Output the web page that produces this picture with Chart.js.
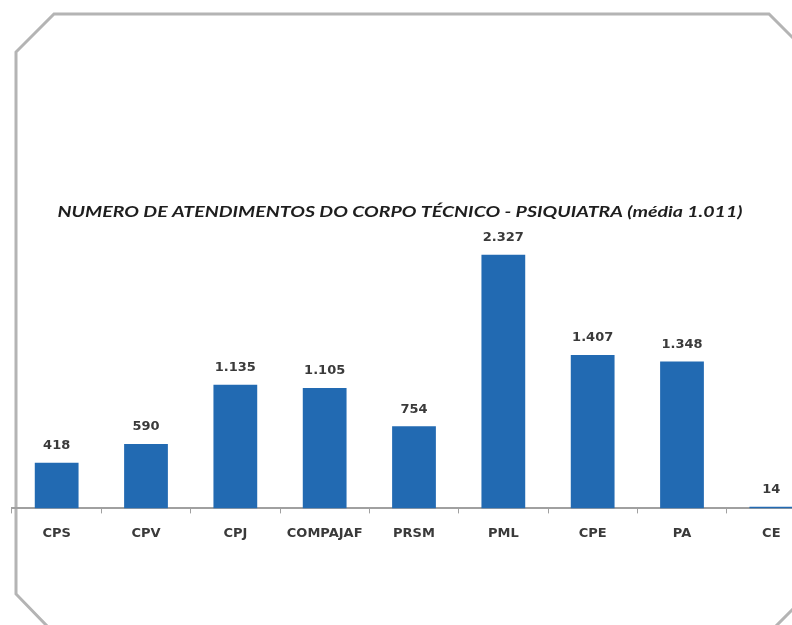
<!DOCTYPE html>
<html>
<head>
<meta charset="utf-8">
<script src="https://cdn.jsdelivr.net/npm/chart.js@4"></script>
<style>
  html, body { margin: 0; padding: 0; background: #fff; overflow: hidden; }
  #chart { display: block; }
</style>
</head>
<body>
<canvas id="chart" width="830" height="625"></canvas>
<script>
const categories = ['CPS', 'CPV', 'CPJ', 'COMPAJAF', 'PRSM', 'PML', 'CPE', 'PA', 'CE'];
const atendimentos = [418, 590, 1135, 1105, 754, 2327, 1407, 1348, 14];
const titleText = 'NUMERO DE ATENDIMENTOS DO CORPO TÉCNICO - PSIQUIATRA (média 1.011)';

const BAR_COLOR = '#226ab2';

function fmt(n) {
  return String(n).replace(/\B(?=(\d{3})+(?!\d))/g, '.');
}

// gray octagon frame behind the chart + the title
const framePlugin = {
  id: 'frame',
  beforeDraw(chart) {
    const ctx = chart.ctx;
    ctx.save();
    ctx.fillStyle = '#fff';
    ctx.fillRect(0, 0, chart.width, chart.height);
    ctx.strokeStyle = '#b4b4b4';
    ctx.lineWidth = 3;
    ctx.beginPath();
    ctx.moveTo(48, 627);
    ctx.lineTo(16, 594);
    ctx.lineTo(16, 52);
    ctx.lineTo(54, 14);
    ctx.lineTo(769, 14);
    ctx.lineTo(830, 75);
    ctx.stroke();
    ctx.beginPath();
    ctx.moveTo(774, 628);
    ctx.lineTo(830, 572);
    ctx.stroke();

    // title stretched to the width it has in the original (x 57..742)
    ctx.fillStyle = '#1e1e1e';
    ctx.font = 'italic bold 15px Lato';
    ctx.textAlign = 'center';
    ctx.textBaseline = 'middle';
    const w = ctx.measureText(titleText).width;
    ctx.translate(400, 212);
    ctx.scale(685 / w, 1);
    ctx.fillText(titleText, 0, 0);
    ctx.restore();
  },
};

// value labels above the bars
const valueLabels = {
  id: 'valueLabels',
  afterDatasetsDraw(chart) {
    const ctx = chart.ctx;
    const meta = chart.getDatasetMeta(0);
    ctx.save();
    ctx.fillStyle = '#3a3a3a';
    ctx.font = 'bold 13px "DejaVu Sans"';
    ctx.textAlign = 'center';
    ctx.textBaseline = 'middle';
    meta.data.forEach((bar, i) => {
      ctx.fillText(fmt(atendimentos[i]), bar.x, bar.y - 17);
    });
    ctx.restore();
  },
};

new Chart(document.getElementById('chart'), {
  type: 'bar',
  data: {
    labels: categories,
    datasets: [
      {
        data: atendimentos,
        backgroundColor: BAR_COLOR,
        barPercentage: 0.49,
        categoryPercentage: 1,
      },
    ],
  },
  options: {
    responsive: false,
    animation: false,
    layout: { padding: { left: 12, right: 14, top: 225, bottom: 72 } },
    plugins: {
      legend: { display: false },
      tooltip: { enabled: false },
      title: { display: false },
    },
    scales: {
      x: {
        grid: {
          display: true,
          drawOnChartArea: false,
          drawTicks: true,
          tickLength: 5,
          tickColor: '#a0a0a0',
          offset: true,
        },
        border: { display: true, color: '#a0a0a0', width: 2 },
        ticks: {
          color: '#3a3a3a',
          font: { family: 'DejaVu Sans', size: 13, weight: 'bold' },
          padding: 12,
          maxRotation: 0,
        },
      },
      y: {
        display: false,
        min: 0,
        max: 2600,
      },
    },
  },
  plugins: [framePlugin, valueLabels],
});
</script>
</body>
</html>
